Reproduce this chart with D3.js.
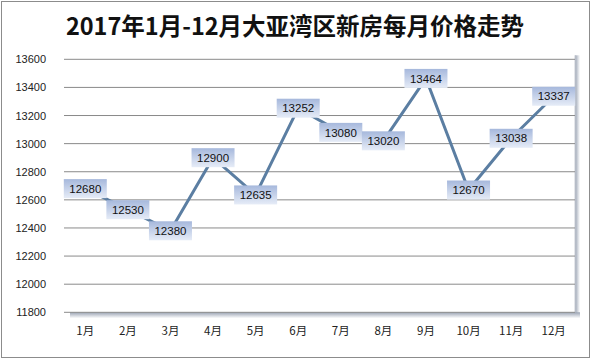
<!DOCTYPE html>
<html><head><meta charset="utf-8">
<script src="https://cdn.jsdelivr.net/npm/d3@7"></script>
<style>body{margin:0;background:#fff;}svg{display:block;}</style>
</head><body>
<svg id="c" width="592" height="359"></svg>
<script>
const months = ["1月","2月","3月","4月","5月","6月","7月","8月","9月","10月","11月","12月"];
const prices = [12680,12530,12380,12900,12635,13252,13080,13020,13464,12670,13038,13337];
const yTicks = [11800,12000,12200,12400,12600,12800,13000,13200,13400,13600];
const title = "2017年1月-12月大亚湾区新房每月价格走势";

const svg = d3.select("#c");
const L = 64, R = 575, T = 59.3, B = 312.3;
const x = d3.scaleBand().domain(months).range([L, R]);
const y = d3.scaleLinear().domain([11800, 13600]).range([B, T]);

const defs = svg.append("defs");
const g1 = defs.append("linearGradient").attr("id","box").attr("x1",0).attr("y1",0).attr("x2",0).attr("y2",1);
g1.append("stop").attr("offset","0%").attr("stop-color","#a6b8dc");
g1.append("stop").attr("offset","100%").attr("stop-color","#e6ecf7");
const gr = defs.append("linearGradient").attr("id","shR").attr("x1",0).attr("y1",0).attr("x2",1).attr("y2",0);
gr.append("stop").attr("offset","0%").attr("stop-color","#9aa3b3");
gr.append("stop").attr("offset","100%").attr("stop-color","#ffffff");
const gb = defs.append("linearGradient").attr("id","shB").attr("x1",0).attr("y1",0).attr("x2",0).attr("y2",1);
gb.append("stop").attr("offset","0%").attr("stop-color","#9aa3b3");
gb.append("stop").attr("offset","100%").attr("stop-color","#ffffff");

// outer border
svg.append("rect").attr("x",1.5).attr("y",1.5).attr("width",588).attr("height",356)
  .attr("fill","#fff").attr("stroke","#8c8c8c").attr("stroke-width",1);

// plot shadow
svg.append("rect").attr("x",R).attr("y",T-4).attr("width",5).attr("height",B-T+9).attr("fill","url(#shR)");
svg.append("rect").attr("x",L+6).attr("y",B).attr("width",R-L-1).attr("height",6).attr("fill","url(#shB)");
svg.append("line").attr("x1",R).attr("x2",R).attr("y1",T-4).attr("y2",B).attr("stroke","#c8ccd4");

// title
svg.append("text").attr("x",295).attr("y",35).attr("text-anchor","middle")
  .attr("font-family","'Noto Sans CJK SC', sans-serif").attr("font-weight","bold")
  .attr("font-size",23.5).attr("fill","#111").text(title);

// gridlines
svg.append("g").selectAll("line").data(yTicks).join("line")
  .attr("x1",L).attr("x2",R).attr("y1",d=>y(d)).attr("y2",d=>y(d))
  .attr("stroke","#8a8a8a").attr("stroke-width",1);

// y axis labels
const yAxis = d3.axisLeft(y).tickValues(yTicks).tickSize(0).tickPadding(0).tickFormat(d3.format("d"));
const ya = svg.append("g").attr("transform",`translate(${L-18},0)`).call(yAxis);
ya.select(".domain").remove();
ya.selectAll("text").attr("font-family","'Liberation Sans', Arial, sans-serif").attr("font-size",11).attr("fill","#222");

// x axis labels
const xAxis = d3.axisBottom(x).tickSize(0).tickPadding(0);
const xa = svg.append("g").attr("transform",`translate(0,${B+15})`).call(xAxis);
xa.select(".domain").remove();
xa.selectAll("text").attr("font-family","'Noto Sans CJK SC', sans-serif").attr("font-size",11.5).attr("fill","#222");

// line
const cx = d => x(d) + x.bandwidth()/2;
svg.append("path").datum(prices)
  .attr("d", d3.line().x((d,i)=>cx(months[i])).y(d=>y(d)))
  .attr("fill","none").attr("stroke","#5b7ea2").attr("stroke-width",3).attr("stroke-linejoin","round");

// labels
const lab = svg.append("g").selectAll("g").data(prices).join("g")
  .attr("transform",(d,i)=>`translate(${cx(months[i])},${y(d)})`);
lab.append("rect").attr("x",-21.5).attr("y",-9.5).attr("width",43).attr("height",19).attr("fill","url(#box)");
lab.append("text").attr("text-anchor","middle").attr("dy","0.36em")
  .attr("font-family","'Liberation Sans', Arial, sans-serif").attr("font-size",11.5).attr("fill","#111")
  .text(d=>d);
</script>
</body></html>
